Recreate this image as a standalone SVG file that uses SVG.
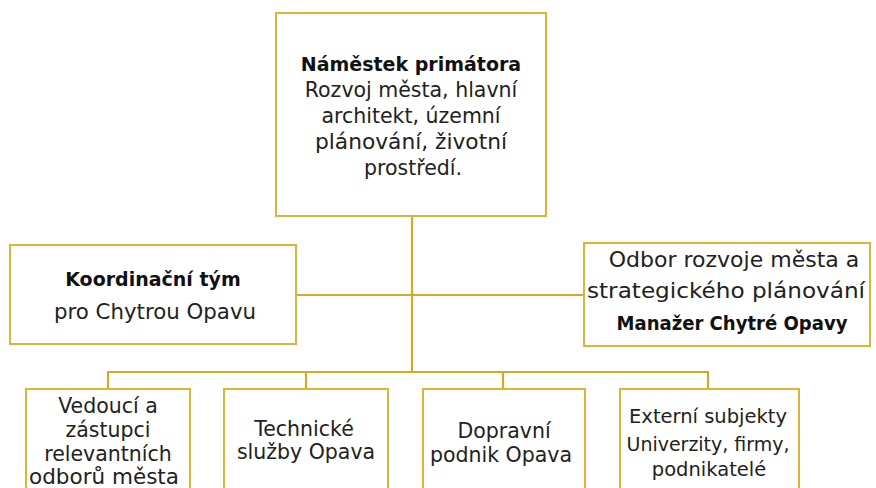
<svg xmlns="http://www.w3.org/2000/svg" width="876" height="488" viewBox="0 0 876 488">
<style>
.box{fill:#fff;stroke:#DDB33A;stroke-width:2}
.ln{fill:none;stroke:#D4A82A;stroke-width:2.2}
text{font-family:"DejaVu Sans","Open Sans","Liberation Sans",sans-serif;font-size:20.5px;fill:#222;text-anchor:middle}
.b{font-weight:bold;fill:#111;font-size:19px}
.s{font-size:19.5px}
.l{font-size:22px}
</style>
<rect width="876" height="488" fill="#fff"/>
<g id="connectors">
<path class="ln" d="M412,216 V372"/>
<path class="ln" d="M296,295 H584"/>
<path class="ln" d="M108,389 V372 H708 V389"/>
<path class="ln" d="M306,372 V389"/>
<path class="ln" d="M503,372 V389"/>
</g>
<g id="n-namestek">
<rect class="box" x="276" y="13" width="270" height="203"/>
<text x="411" y="71" class="b">Náměstek primátora</text>
<text x="411" y="97">Rozvoj města, hlavní</text>
<text x="411" y="123">architekt, územní</text>
<text x="411" y="149" textLength="192" lengthAdjust="spacingAndGlyphs">plánování, životní</text>
<text x="413" y="175">prostředí.</text>
</g>
<g id="n-koordinacni">
<rect class="box" x="10" y="245" width="286" height="99"/>
<text x="153" y="286" class="b">Koordinační tým</text>
<text x="155" y="319" textLength="202" lengthAdjust="spacingAndGlyphs">pro Chytrou Opavu</text>
</g>
<g id="n-odbor">
<rect class="box" x="584" y="243" width="286" height="103"/>
<text x="734" y="267" class="l">Odbor rozvoje města a</text>
<text x="726" y="298" class="l" textLength="278" lengthAdjust="spacingAndGlyphs">strategického plánování</text>
<text x="732" y="330" class="b" textLength="231" lengthAdjust="spacingAndGlyphs">Manažer Chytré Opavy</text>
</g>
<g id="n-vedouci">
<rect class="box" x="26" y="389" width="164" height="110"/>
<text x="108" y="413">Vedoucí a</text>
<text x="108" y="437">zástupci</text>
<text x="108" y="461">relevantních</text>
<text x="104" y="484" textLength="150" lengthAdjust="spacingAndGlyphs">odborů města</text>
</g>
<g id="n-technicke">
<rect class="box" x="224" y="389" width="164" height="110"/>
<text x="304" y="436">Technické</text>
<text x="306" y="459">služby Opava</text>
</g>
<g id="n-dopravni">
<rect class="box" x="423" y="389" width="162" height="110"/>
<text x="504" y="438">Dopravní</text>
<text x="501" y="462">podnik Opava</text>
</g>
<g id="n-externi">
<rect class="box" x="620" y="389" width="179" height="110"/>
<text x="708" y="423" class="s">Externí subjekty</text>
<text x="708" y="451" class="s" textLength="163" lengthAdjust="spacingAndGlyphs">Univerzity, firmy,</text>
<text x="709" y="476" class="s">podnikatelé</text>
</g>
</svg>
